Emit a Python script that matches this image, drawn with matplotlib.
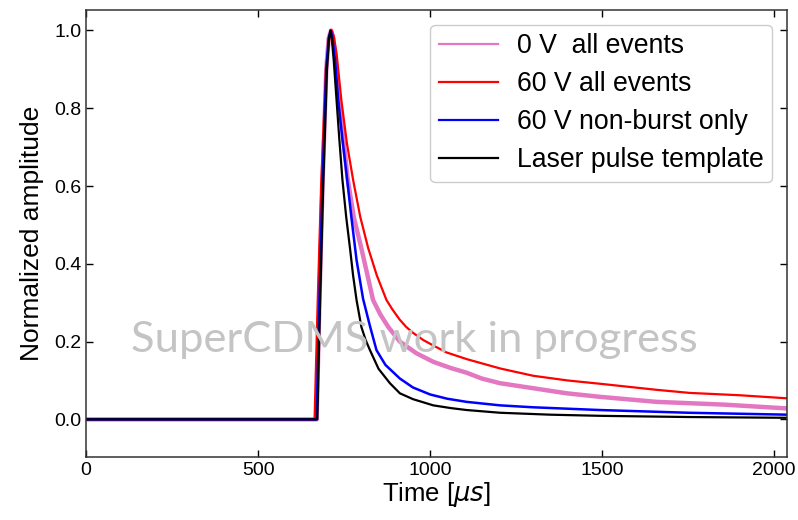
import matplotlib
matplotlib.use("Agg")
import matplotlib.pyplot as plt

plt.rcParams["font.family"] = ["Liberation Sans", "DejaVu Sans"]

# values (time in us, normalized amplitude)
t_pink = [0, 670, 678, 687, 698, 705, 712, 718, 726, 736, 748, 760, 778, 800, 818, 834, 855, 878,
          912, 960, 1009, 1060, 1106, 1150, 1203, 1300, 1397, 1493, 1658, 1852, 2040]
v_pink = [0, 0, 0.30, 0.60, 0.90, 0.98, 1.0, 0.98, 0.92, 0.82, 0.72, 0.62, 0.52, 0.44, 0.37, 0.307, 0.27, 0.238,
          0.20, 0.17, 0.148, 0.132, 0.12, 0.105, 0.093, 0.080, 0.067, 0.058, 0.045, 0.038, 0.028]

t_red = [0, 664, 673, 683, 697, 707, 714, 720, 728, 742, 758, 776, 797, 820, 845, 873, 890, 911, 930, 951,
         980, 1009, 1048, 1106, 1203, 1300, 1400, 1500, 1658, 1755, 1900, 2040]
v_red = [0, 0, 0.30, 0.60, 0.90, 0.98, 1.0, 0.985, 0.94, 0.82, 0.71, 0.616, 0.52, 0.44, 0.37, 0.307, 0.283, 0.257, 0.238, 0.222,
         0.204, 0.19, 0.172, 0.155, 0.131, 0.112, 0.100, 0.091, 0.076, 0.068, 0.062, 0.054]

t_blue = [0, 670, 678, 687, 698, 705, 711, 716, 724, 733, 745, 757, 771, 786, 805, 825, 844, 870,
          912, 950, 1000, 1050, 1106, 1203, 1300, 1493, 1750, 2040]
v_blue = [0, 0, 0.30, 0.60, 0.90, 0.98, 1.0, 0.98, 0.92, 0.82, 0.72, 0.63, 0.52, 0.41, 0.31, 0.24, 0.178, 0.14,
          0.105, 0.082, 0.064, 0.053, 0.045, 0.036, 0.031, 0.024, 0.017, 0.012]

t_black = [0, 672, 680, 689, 700, 706, 710, 714, 720, 728, 736, 745, 756, 767, 776, 786, 800, 812, 825,
           850, 883, 912, 950, 1009, 1060, 1106, 1203, 1350, 1500, 1750, 2040]
v_black = [0, 0, 0.30, 0.60, 0.90, 0.98, 1.0, 0.98, 0.92, 0.82, 0.72, 0.616, 0.52, 0.44, 0.37, 0.307, 0.238, 0.205, 0.178,
           0.13, 0.093, 0.067, 0.052, 0.036, 0.029, 0.024, 0.017, 0.012, 0.009, 0.006, 0.004]

labels = ["0 V  all events", "60 V all events", "60 V non-burst only", "Laser pulse template"]
x_ticks = [0, 500, 1000, 1500, 2000]
y_ticks = [0.0, 0.2, 0.4, 0.6, 0.8, 1.0]

fig = plt.figure(figsize=(7.98, 5.2), dpi=100)
ax = fig.add_axes([0.108, 0.121, 0.878, 0.860])

ax.plot(t_pink, v_pink, color="#e377c2", lw=3.2, label=labels[0])
ax.plot(t_red, v_red, color="red", lw=1.6, label=labels[1])
ax.plot(t_blue, v_blue, color="blue", lw=1.8, label=labels[2])
ax.plot(t_black, v_black, color="black", lw=1.6, label=labels[3])

ax.set_xlim(0, 2037)
ax.set_ylim(-0.097, 1.053)
ax.set_xticks(x_ticks)
ax.set_yticks(y_ticks)
ax.yaxis.set_major_formatter(matplotlib.ticker.FormatStrFormatter("%.1f"))
ax.tick_params(direction="in", top=True, right=True, labelsize=14, length=5, width=1)
for s in ax.spines.values():
    s.set_linewidth(1.1)
    s.set_color("#333333")

ax.set_xlabel(r"Time [$\mu s$]", fontsize=18.5, labelpad=1)
ax.set_ylabel("Normalized amplitude", fontsize=19, labelpad=7)

leg = ax.legend(loc="upper right", fontsize=19.2, handlelength=2.2, handletextpad=0.7,
                labelspacing=0.45, borderpad=0.33, borderaxespad=0.55, framealpha=1,
                edgecolor="#cccccc")
for ln in leg.get_lines():
    ln.set_linewidth(1.6)

ax.text(0.469, 0.262, "SuperCDMS work in progress", transform=ax.transAxes,
        fontsize=31.3, family="Lato", color="#c4c4c4", ha="center", va="center", zorder=5)

fig.savefig("out.png", dpi=100)
